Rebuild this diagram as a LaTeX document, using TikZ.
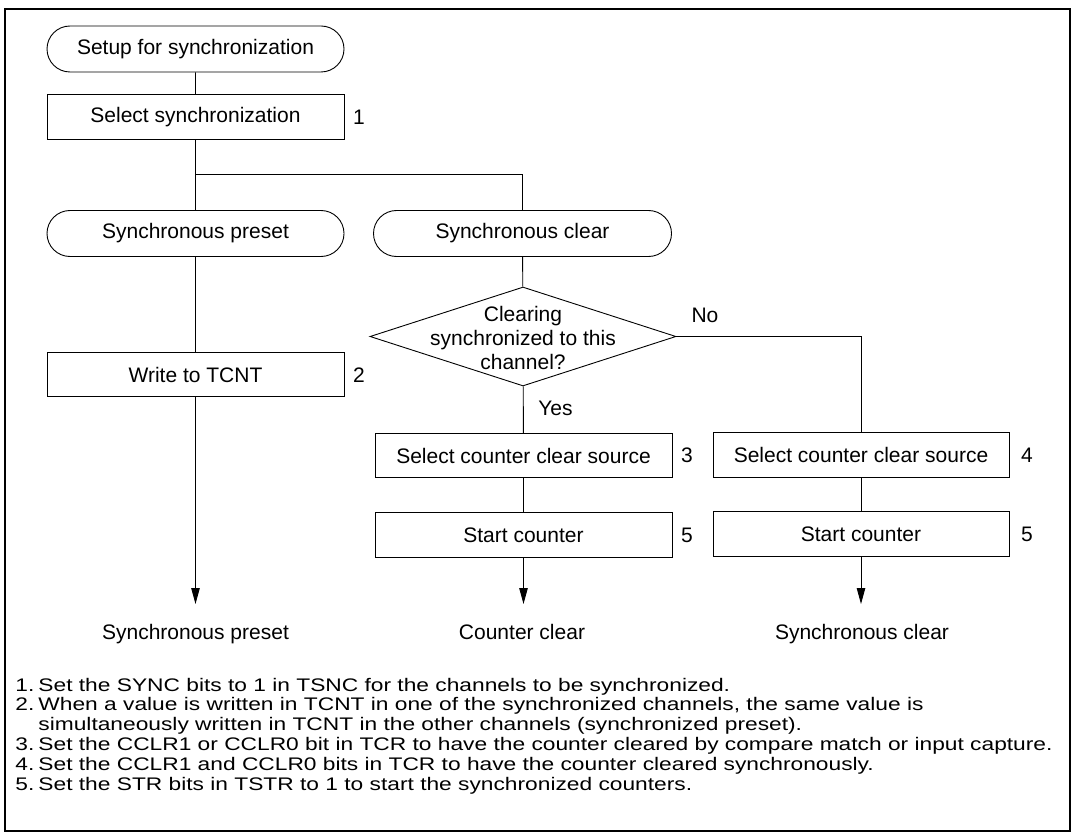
\documentclass[tikz,border=0pt]{standalone}
\usepackage{fontspec}
\setmainfont{Liberation Sans}
\newfontfamily\notefont[FakeStretch=1.25]{Liberation Sans}
\usetikzlibrary{shapes.geometric, shapes.misc, arrows.meta}

\tikzset{
  term/.style={draw, rounded rectangle, minimum width=297pt, minimum height=46pt, inner sep=0pt},
  proc/.style={draw, rectangle, minimum width=297pt, minimum height=44.5pt, inner sep=0pt},
  decide/.style={draw, diamond, minimum width=306pt, minimum height=99pt, inner sep=0pt},
  tag/.style={inner sep=0pt},
  flow/.style={-{Triangle[length=16pt, width=8.5pt]}},
  note/.style={font=\notefont\fontsize{18.2}{19.8}\selectfont, inner sep=0pt, anchor=base west},
}

\begin{document}
\begin{tikzpicture}[x=1pt, y=-1pt, line width=0.9pt, font=\fontsize{21}{24}\selectfont]
      \useasboundingbox (0,0) rectangle (1076,837);
      \draw[line width=2pt] (5,9) rectangle (1070,831);

      % 1. setup and the split
      \node[term] (start) at (195.5,49) {Setup for synchronization};
      \node[proc] (sel) at (195.5,117) {Select synchronization};
      \node[tag] (n1) at (359,117) {1};
      \coordinate (split) at (195.5,174);

      % 2. preset column
      \node[term] (preset) at (195.5,233.5) {Synchronous preset};
      \node[proc] (write) at (195.5,374.5) {Write to TCNT};
      \node[tag] (n2) at (359,375) {2};
      \coordinate (tipP) at (195.5,604);
      \node[anchor=base] (outP) at (195.5,639) {Synchronous preset};

      % 3. clear column
      \node[term, minimum width=298pt] (sclear) at (522.5,233.5) {Synchronous clear};
      \node[decide] (dec) at (523,336.5) {};
      \node[align=center, inner sep=0pt] (dectext) at (523,338) {Clearing\\synchronized to this\\channel?};
      \node[tag, anchor=base] (no) at (705,322.5) {No};
      \node[tag, anchor=base] (yes) at (555.5,415) {Yes};
      \node[proc] (src3) at (523.5,455.5) {Select counter clear source};
      \node[tag] (n3) at (687,455.5) {3};
      \node[proc] (start3) at (523.5,535) {Start counter};
      \node[tag] (n5a) at (687,535) {5};
      \coordinate (tipC) at (523.5,604);
      \node[anchor=base] (outC) at (522,639) {Counter clear};

      % 4. synchronous clear column
      \node[proc, minimum width=296pt] (src4) at (861,455) {Select counter clear source};
      \node[tag] (n4) at (1027,455) {4};
      \node[proc, minimum width=296pt] (start4) at (861,534) {Start counter};
      \node[tag] (n5b) at (1027,534) {5};
      \coordinate (tipS) at (861,604);
      \node[anchor=base] (outS) at (862,639) {Synchronous clear};

      % 5. connectors
      \draw (start) -- (sel);
      \draw (sel) -- (preset);
      \draw (split) -| (sclear.north);
      \draw (preset) -- (write);
      \draw[flow] (write) -- (tipP);
      \draw (sclear) -- (dec);
      \draw (dec) -- (src3);
      \draw (dec.east) -| (src4.north);
      \draw (src3) -- (start3);
      \draw[flow] (start3) -- (tipC);
      \draw (src4) -- (start4);
      \draw[flow] (start4) -- (tipS);

      % 6. notes
      \foreach \txt [count=\i] in {
          {\makebox[23pt][l]{1.}Set the SYNC bits to 1 in TSNC for the channels to be synchronized.},
          {\makebox[23pt][l]{2.}When a value is written in TCNT in one of the synchronized channels, the same value is},
          {\makebox[23pt][l]{}simultaneously written in TCNT in the other channels (synchronized preset).},
          {\makebox[23pt][l]{3.}Set the CCLR1 or CCLR0 bit in TCR to have the counter cleared by compare match or input capture.},
          {\makebox[23pt][l]{4.}Set the CCLR1 and CCLR0 bits in TCR to have the counter cleared synchronously.},
          {\makebox[23pt][l]{5.}Set the STR bits in TSTR to 1 to start the synchronized counters.}}
        \node[note] (note\i) at (15,{691+19.8*(\i-1)}) {\txt};
\end{tikzpicture}
\end{document}
